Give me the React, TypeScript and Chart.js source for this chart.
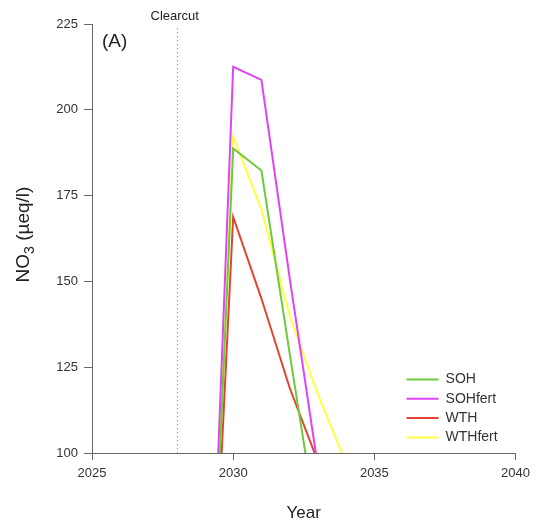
import React, { useEffect, useRef } from "react";
import { Chart, registerables } from "chart.js";

Chart.register(...registerables);

// ---- data ----
const years = [2029, 2030, 2031, 2032, 2033, 2034];
const sohValues = [0, 188.7, 182.3, 129, 77, null];
const sohFertValues = [0, 212.5, 208.7, 151, 96, null];
const wthValues = [0, 168.8, 145, 119, 97.5, null];
const wthFertValues = [0, 192.2, 171, 140, 117, 97];
const seriesLabels = ["SOH", "SOHfert", "WTH", "WTHfert"];
const xTicks = [2025, 2030, 2035, 2040];
const yTicks = [100, 125, 150, 175, 200, 225];
const clearcutYear = 2028;
const clearcutLabel = "Clearcut";
const panelLabel = "(A)";
const xTitle = "Year";
const yTitleMain = "NO";
const yTitleSub = "3";
const yTitleUnit = " (\u00B5eq/l)";

// ---- styles ----
const seriesColors = ["#6cca3c", "#e043f5", "#e0452f", "#ffff44"];
const FONT = "'Liberation Sans', Arial, Helvetica, sans-serif";
const AXIS_COLOR = "#666666";
const TEXT_COLOR = "#333333";

const seriesValues = [sohValues, sohFertValues, wthValues, wthFertValues];

const annotationPlugin = {
  id: "annotations",
  afterDatasetsDraw(chart: any) {
    const { ctx, chartArea, scales } = chart;
    const x = scales.x.getPixelForValue(clearcutYear);
    ctx.save();
    // clearcut dotted line
    ctx.strokeStyle = "#9a9a9a";
    ctx.lineWidth = 1;
    ctx.setLineDash([1.5, 2.5]);
    ctx.beginPath();
    const px = Math.round(x) + 0.5;
    ctx.moveTo(px, chartArea.top + 4);
    ctx.lineTo(px, chartArea.bottom);
    ctx.stroke();
    ctx.setLineDash([]);
    // clearcut label
    ctx.fillStyle = "#222222";
    ctx.font = `13px ${FONT}`;
    ctx.textAlign = "center";
    ctx.textBaseline = "alphabetic";
    ctx.fillText(clearcutLabel, x - 2, chartArea.top - 4);
    // panel label
    ctx.font = `19px ${FONT}`;
    ctx.textAlign = "left";
    ctx.fillText(panelLabel, chartArea.left + 10, chartArea.top + 23);
    // legend
    ctx.font = `14px ${FONT}`;
    ctx.textBaseline = "middle";
    chart.data.datasets.forEach((ds: any, i: number) => {
      const y = chartArea.bottom - 73.5 + i * 19.3;
      ctx.strokeStyle = ds.borderColor;
      ctx.lineWidth = 2;
      ctx.beginPath();
      ctx.moveTo(chartArea.right - 109, y);
      ctx.lineTo(chartArea.right - 77, y);
      ctx.stroke();
      ctx.fillStyle = TEXT_COLOR;
      ctx.fillText(ds.label, chartArea.right - 70, y);
    });
    // y-axis title with subscript
    const mainFont = `19px ${FONT}`;
    const subFont = `14px ${FONT}`;
    ctx.font = mainFont;
    const w1 = ctx.measureText(yTitleMain).width;
    const w3 = ctx.measureText(yTitleUnit).width;
    ctx.font = subFont;
    const w2 = ctx.measureText(yTitleSub).width;
    const total = w1 + w2 + w3;
    const cy = (chartArea.top + chartArea.bottom) / 2 - 4;
    ctx.translate(29, cy);
    ctx.rotate(-Math.PI / 2);
    ctx.fillStyle = "#222222";
    ctx.textAlign = "left";
    ctx.textBaseline = "alphabetic";
    let cx = -total / 2;
    ctx.font = mainFont;
    ctx.fillText(yTitleMain, cx, 0);
    cx += w1;
    ctx.font = subFont;
    ctx.fillText(yTitleSub, cx, 5);
    cx += w2;
    ctx.font = mainFont;
    ctx.fillText(yTitleUnit, cx, 0);
    ctx.restore();
  },
};

export default function App() {
  const canvasRef = useRef<HTMLCanvasElement | null>(null);

  useEffect(() => {
    if (!canvasRef.current) return;
    const datasets = seriesLabels.map((label, i) => ({
      label,
      data: years.map((yr, j) => ({ x: yr, y: seriesValues[i][j] })),
      borderColor: seriesColors[i],
      backgroundColor: seriesColors[i],
      borderWidth: 2,
      pointRadius: 0,
      tension: 0,
      fill: false,
      spanGaps: false,
    }));

    const chart = new Chart(canvasRef.current, {
      type: "line",
      data: { datasets },
      options: {
        animation: false,
        responsive: false,
        events: [],
        layout: { padding: { top: 24, right: 16, left: 0, bottom: 0 } },
        plugins: {
          legend: { display: false },
          tooltip: { enabled: false },
        },
        scales: {
          x: {
            type: "linear",
            min: 2025,
            max: 2040,
            afterBuildTicks: (s: any) => {
              s.ticks = xTicks.map((v) => ({ value: v }));
            },
            afterFit: (s: any) => {
              s.height = 70;
            },
            ticks: {
              callback: (v: any) => String(v),
              font: { size: 13, family: FONT },
              color: TEXT_COLOR,
              padding: 6,
              maxRotation: 0,
              autoSkip: false,
            },
            grid: {
              drawOnChartArea: false,
              drawTicks: true,
              tickLength: 7,
              color: AXIS_COLOR,
            },
            border: { display: true, color: AXIS_COLOR, width: 1 },
            title: {
              display: true,
              text: xTitle,
              font: { size: 17, family: FONT, lineHeight: 1 },
              color: "#222222",
              padding: { top: 0, bottom: 1 },
            },
          },
          y: {
            type: "linear",
            min: 100,
            max: 225,
            afterBuildTicks: (s: any) => {
              s.ticks = yTicks.map((v) => ({ value: v }));
            },
            afterFit: (s: any) => {
              s.width = 92;
            },
            ticks: {
              callback: (v: any) => String(v),
              font: { size: 13, family: FONT },
              color: TEXT_COLOR,
              padding: 6,
              autoSkip: false,
            },
            grid: {
              drawOnChartArea: false,
              drawTicks: true,
              tickLength: 8,
              color: AXIS_COLOR,
            },
            border: { display: true, color: AXIS_COLOR, width: 1 },
            title: { display: false },
          },
        },
      },
      plugins: [annotationPlugin],
    });
    return () => chart.destroy();
  }, []);

  return (
    <div style={{ position: "fixed", left: 0, top: 0, width: 536, height: 523, background: "#fff" }}>
      <canvas ref={canvasRef} width={536} height={523} style={{ display: "block" }} />
    </div>
  );
}
